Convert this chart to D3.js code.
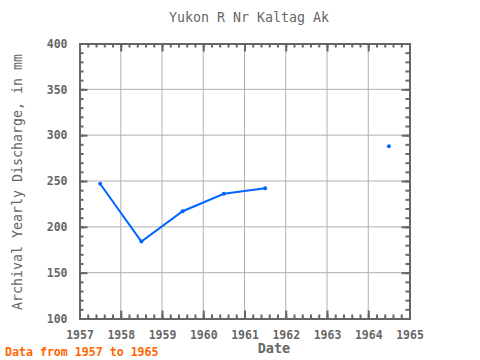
<!DOCTYPE html>
<html><head><meta charset="utf-8">
<script src="https://cdn.jsdelivr.net/npm/d3@7"></script>
<style>body{margin:0;background:#fff;}svg{display:block;}</style>
</head><body><svg width="480" height="360"></svg>
<script>
const years = [1957.5, 1958.5, 1959.5, 1960.5, 1961.5, 1962.5, 1963.5, 1964.5];
const discharge = [247, 184, 217, 236, 242, null, null, 288];
const xTicks = [1957, 1958, 1959, 1960, 1961, 1962, 1963, 1964, 1965];
const yTicks = [100, 150, 200, 250, 300, 350, 400];

const svg = d3.select("svg");
const L = 79.5, R = 409.5, T = 43.5, B = 318.5;
const x = d3.scaleLinear().domain([1957, 1965]).range([L, R]);
const y = d3.scaleLinear().domain([100, 400]).range([B, T]);
const gray = "#666";
const font = "DejaVu Sans Mono, monospace";

// grid
svg.append("g").selectAll("line").data(xTicks.slice(1, -1)).join("line")
  .attr("x1", d => x(d)).attr("x2", d => x(d)).attr("y1", T).attr("y2", B)
  .attr("stroke", "#b0b0b0").attr("stroke-width", 1);
svg.append("g").selectAll("line").data(yTicks.slice(1, -1)).join("line")
  .attr("y1", d => y(d)).attr("y2", d => y(d)).attr("x1", L).attr("x2", R)
  .attr("stroke", "#b0b0b0").attr("stroke-width", 1);

// axes with inward ticks
const xMinor = d3.range(1957, 1965.001, 0.2);
const yMinor = d3.range(100, 400.001, 10);
function addAxis(axis, tr) {
  const g = svg.append("g").attr("transform", tr).call(axis);
  g.selectAll("path,line").attr("stroke", gray).attr("stroke-width", 2);
  g.selectAll("text").attr("fill", gray).attr("font-family", font).attr("font-size", 11.5).attr("font-weight", "bold");
  return g;
}
// minor
addAxis(d3.axisBottom(x).tickValues(xMinor).tickSize(-4).tickFormat(""), `translate(0,${B})`);
addAxis(d3.axisTop(x).tickValues(xMinor).tickSize(-4).tickFormat(""), `translate(0,${T})`);
addAxis(d3.axisLeft(y).tickValues(yMinor).tickSize(-4).tickFormat(""), `translate(${L},0)`);
addAxis(d3.axisRight(y).tickValues(yMinor).tickSize(-4).tickFormat(""), `translate(${R},0)`);
// major
addAxis(d3.axisBottom(x).tickValues(xTicks).tickSize(-8).tickPadding(12).tickFormat(d3.format("d")), `translate(0,${B})`);
addAxis(d3.axisTop(x).tickValues(xTicks).tickSize(-8).tickFormat(""), `translate(0,${T})`);
addAxis(d3.axisLeft(y).tickValues(yTicks).tickSize(-8).tickPadding(12), `translate(${L},0)`);
addAxis(d3.axisRight(y).tickValues(yTicks).tickSize(-8).tickFormat(""), `translate(${R},0)`);

// data
const data = years.map((d, i) => ({x: d, y: discharge[i]}));
const line = d3.line().defined(d => d.y != null).x(d => x(d.x)).y(d => y(d.y));
svg.append("path").datum(data).attr("d", line).attr("fill", "none")
  .attr("stroke", "#0066ff").attr("stroke-width", 2);
svg.append("g").selectAll("circle").data(data.filter(d => d.y != null)).join("circle")
  .attr("cx", d => x(d.x)).attr("cy", d => y(d.y)).attr("r", 2)
  .attr("fill", "#0066ff");

// text
svg.append("text").attr("x", 249).attr("y", 22).attr("text-anchor", "middle")
  .attr("font-family", font).attr("font-size", 13.3).attr("fill", gray).text("Yukon R Nr Kaltag Ak");
svg.append("text").attr("x", 274).attr("y", 353).attr("text-anchor", "middle")
  .attr("font-family", font).attr("font-size", 13.5).attr("font-weight", "bold").attr("fill", gray).text("Date");
svg.append("text").attr("transform", "translate(22,182) rotate(-90)").attr("text-anchor", "middle")
  .attr("font-family", font).attr("font-size", 13.3).attr("fill", gray).text("Archival Yearly Discharge, in mm");
svg.append("text").attr("x", 5).attr("y", 356)
  .attr("font-family", font).attr("font-size", 11.6).attr("font-weight", "bold").attr("fill", "#ff6600").text("Data from 1957 to 1965");
</script></body></html>
